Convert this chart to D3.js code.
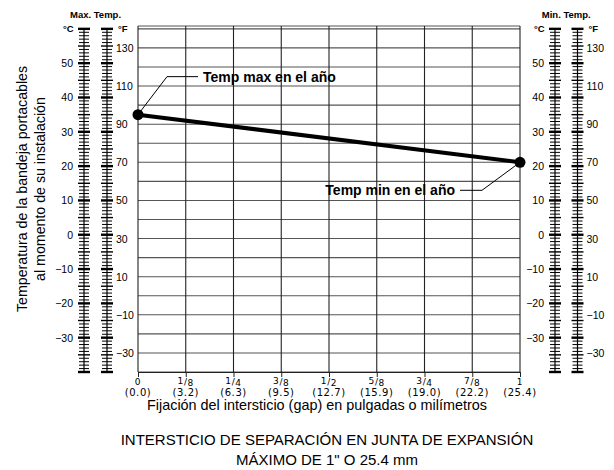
<!DOCTYPE html>
<html>
<head>
<meta charset="utf-8">
<script src="https://cdn.jsdelivr.net/npm/d3@7"></script>
<style>
  body { margin: 0; background: #fff; }
  svg { display: block; font-family: "Liberation Sans", Arial, sans-serif; }
</style>
</head>
<body>
<div id="chart"></div>
<script>
// gap values on the x axis
var gapInches = [0, 0.125, 0.25, 0.375, 0.5, 0.625, 0.75, 0.875, 1];
var gapFractions = ["0", "1/8", "1/4", "3/8", "1/2", "5/8", "3/4", "7/8", "1"];
var gapMm = ["(0.0)", "(3.2)", "(6.3)", "(9.5)", "(12.7)", "(15.9)", "(19.0)", "(22.2)", "(25.4)"];

// thermometer labels
var celsiusLabels = [-30, -20, -10, 0, 10, 20, 30, 40, 50];
var fahrenheitLabels = [-30, -10, 10, 30, 50, 70, 90, 110, 130];

// the line: max temp at 0 gap, min temp at 1" gap (in °F)
var lineGap = [0, 1];
var lineTempF = [95, 70];
var annotations = ["Temp max en el año", "Temp min en el año"];

var width = 614, height = 470;
var yMin = -40, yMax = 141.5;

var svg = d3.select("#chart").append("svg")
    .attr("width", width)
    .attr("height", height);

var x = d3.scaleLinear().domain([0, 1]).range([138, 520]);
var y = d3.scaleLinear().domain([yMin, yMax]).range([372, 26]);

function cToF(c) { return c * 9 / 5 + 32; }
function fmt(v) { return v < 0 ? "\u2212" + Math.abs(v) : String(v); }

// grid
var grid = svg.append("g").attr("class", "grid");
grid.selectAll("line.h")
    .data(d3.range(-40, 141, 10).concat([yMax]))
    .enter().append("line")
    .attr("class", "h")
    .attr("x1", x(0)).attr("x2", x(1))
    .attr("y1", function (d) { return y(d); })
    .attr("y2", function (d) { return y(d); })
    .attr("stroke", "#555")
    .attr("stroke-width", 1.1);
grid.selectAll("line.v")
    .data(gapInches)
    .enter().append("line")
    .attr("class", "v")
    .attr("x1", function (d) { return x(d); })
    .attr("x2", function (d) { return x(d); })
    .attr("y1", y(yMax)).attr("y2", y(yMin))
    .attr("stroke", "#222")
    .attr("stroke-width", 1.1);

// x axis
var xAxis = svg.append("g")
    .attr("transform", "translate(0," + y(yMin) + ")")
    .call(d3.axisBottom(x).tickValues(gapInches).tickSize(5).tickFormat(""));
xAxis.select(".domain").attr("stroke", "#222");
xAxis.selectAll(".tick line").attr("stroke", "#222");

var tickLab = svg.append("g")
    .attr("font-family", "'DejaVu Sans', sans-serif")
    .attr("font-size", 10)
    .attr("letter-spacing", 0.6)
    .attr("text-anchor", "middle");

gapInches.forEach(function (g, i) {
    var t = tickLab.append("text").attr("x", x(g)).attr("y", 385).attr("font-size", 9);
    var parts = gapFractions[i].split("/");
    if (parts.length === 2) {
        t.append("tspan").attr("dy", -1).text(parts[0]);
        t.append("tspan").attr("dy", 1).text("/");
        t.append("tspan").attr("dy", 1).text(parts[1]);
    } else {
        t.text(gapFractions[i]);
    }
    tickLab.append("text").attr("x", x(g)).attr("y", 396).text(gapMm[i]);
});

svg.append("text")
    .attr("x", 317).attr("y", 410)
    .attr("text-anchor", "middle")
    .attr("font-size", 14.4)
    .text("Fijación del intersticio (gap) en pulgadas o milímetros");

// title
svg.append("text")
    .attr("x", 327).attr("y", 445)
    .attr("text-anchor", "middle")
    .attr("font-size", 15)
    .text("INTERSTICIO DE SEPARACIÓN EN JUNTA DE EXPANSIÓN");
svg.append("text")
    .attr("x", 327).attr("y", 465)
    .attr("text-anchor", "middle")
    .attr("font-size", 15)
    .text("MÁXIMO DE 1\" O 25.4 mm");

// y title
[["Temperatura de la bandeja portacables", 27], ["al momento de su instalación", 45]].forEach(function (l) {
    svg.append("text")
        .attr("transform", "translate(" + l[1] + ",189) rotate(-90)")
        .attr("text-anchor", "middle")
        .attr("font-size", 14.2)
        .text(l[0]);
});

// thermometer columns, ticks every 1 °C
function thermo(cx) {
    var g = svg.append("g");
    g.append("line")
        .attr("x1", cx).attr("x2", cx)
        .attr("y1", y(cToF(-40))).attr("y2", y(cToF(60)))
        .attr("stroke", "#000").attr("stroke-width", 1.2);
    g.selectAll("line.t")
        .data(d3.range(-40, 61, 1))
        .enter().append("line")
        .attr("class", "t")
        .attr("x1", function (d) { return cx - (d % 5 === 0 ? 6 : 5); })
        .attr("x2", function (d) { return cx + (d % 5 === 0 ? 6 : 5); })
        .attr("y1", function (d) { return y(cToF(d)); })
        .attr("y2", function (d) { return y(cToF(d)); })
        .attr("stroke", "#000")
        .attr("stroke-width", function (d) { return d % 10 === 0 ? 2.4 : d % 5 === 0 ? 1.4 : 1; });
}

function scaleBlock(cCx, fCx, title) {
    thermo(cCx);
    thermo(fCx);
    svg.append("text")
        .attr("x", (cCx + fCx) / 2).attr("y", 18)
        .attr("text-anchor", "middle")
        .attr("font-size", 9.5).attr("font-weight", "bold")
        .text(title);
    svg.append("text")
        .attr("x", cCx - 21).attr("y", 32)
        .attr("font-size", 9.5).attr("font-weight", "bold")
        .text("°C");
    svg.append("text")
        .attr("x", fCx + 11).attr("y", 32)
        .attr("font-size", 9.5).attr("font-weight", "bold")
        .text("°F");
    svg.selectAll(null)
        .data(celsiusLabels)
        .enter().append("text")
        .attr("x", cCx - 11)
        .attr("y", function (d) { return y(cToF(d)) + 4; })
        .attr("text-anchor", "end")
        .attr("font-size", 10.5)
        .text(fmt);
    svg.selectAll(null)
        .data(fahrenheitLabels)
        .enter().append("text")
        .attr("x", fCx + 9)
        .attr("y", function (d) { return y(d) + 4; })
        .attr("font-size", 10.5)
        .text(fmt);
}

scaleBlock(84, 107, "Max. Temp.");
scaleBlock(555, 577.5, "Min. Temp.");

// data line
var pts = lineGap.map(function (g, i) { return [x(g), y(lineTempF[i])]; });
svg.append("path")
    .attr("d", d3.line()(pts))
    .attr("fill", "none")
    .attr("stroke", "#000")
    .attr("stroke-width", 4);
svg.selectAll("circle")
    .data(pts)
    .enter().append("circle")
    .attr("cx", function (d) { return d[0]; })
    .attr("cy", function (d) { return d[1]; })
    .attr("r", 5.5)
    .attr("fill", "#000");

// annotations
var p0 = pts[0], p1 = pts[1];
svg.append("path")
    .attr("d", d3.line()([p0, [p0[0] + 29, p0[1] - 38], [p0[0] + 60, p0[1] - 38]]))
    .attr("fill", "none").attr("stroke", "#000").attr("stroke-width", 1);
svg.append("text")
    .attr("x", p0[0] + 65).attr("y", p0[1] - 33)
    .attr("font-size", 14).attr("font-weight", "bold")
    .text(annotations[0]);

svg.append("path")
    .attr("d", d3.line()([p1, [p1[0] - 38, p1[1] + 28], [p1[0] - 60, p1[1] + 28]]))
    .attr("fill", "none").attr("stroke", "#000").attr("stroke-width", 1);
svg.append("text")
    .attr("x", p1[0] - 65).attr("y", p1[1] + 33)
    .attr("text-anchor", "end")
    .attr("font-size", 14).attr("font-weight", "bold")
    .text(annotations[1]);
</script>
</body>
</html>
